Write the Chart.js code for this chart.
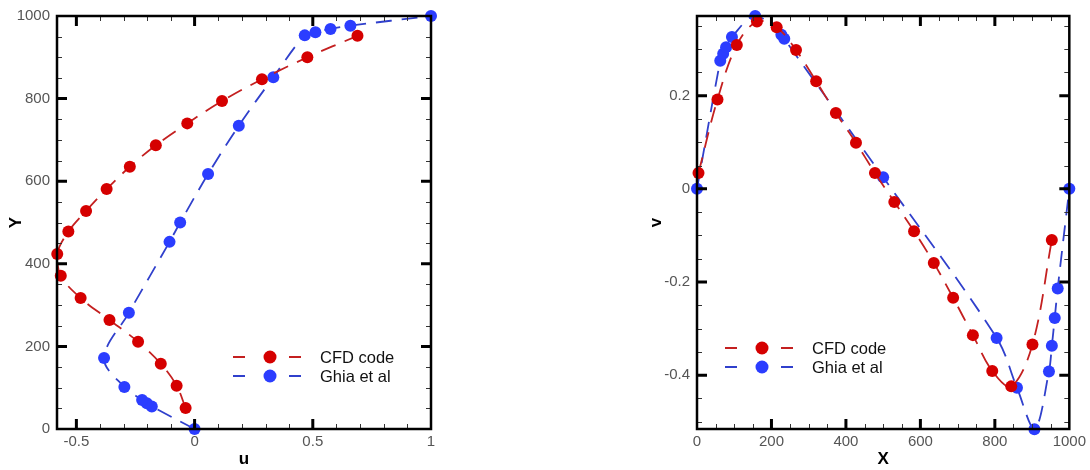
<!DOCTYPE html>
<html>
<head>
<meta charset="utf-8">
<script src="https://cdn.jsdelivr.net/npm/chart.js@4"></script>
<style>
html,body{margin:0;padding:0;background:#fff;}
#wrap{position:relative;width:1090px;height:470px;overflow:hidden;}
.c{position:absolute;top:0;width:545px;height:470px;}
</style>
</head>
<body>
<div id="wrap">
  <div class="c" style="left:0"><canvas id="cu" width="545" height="470"></canvas></div>
  <div class="c" style="left:545px"><canvas id="cv" width="545" height="470"></canvas></div>
</div>
<script>
// ---- Left chart: u profile along vertical centreline ----
const cfdY = [51,105,158,211,264,317,371,424,478,528,581,635,687,740,794,847,900,952];
const cfdU = [-0.038,-0.076,-0.143,-0.239,-0.360,-0.482,-0.566,-0.581,-0.534,-0.459,-0.372,-0.274,-0.164,-0.031,0.116,0.285,0.477,0.689];
const ghiaY = [0,54.7,62.5,70.3,101.6,171.9,281.3,453.1,500,617.2,734.4,851.6,953.1,960.9,968.8,976.6,1000];
const ghiaU = [0,-0.181,-0.202,-0.222,-0.297,-0.383,-0.278,-0.106,-0.061,0.057,0.187,0.333,0.466,0.511,0.575,0.659,1];

// ---- Right chart: v profile along horizontal centreline ----
const cfdX = [4,55,107,161,214,266,320,373,427,478,530,583,636,688,741,793,844,901,953];
const cfdV = [0.034,0.192,0.309,0.359,0.347,0.298,0.231,0.163,0.099,0.034,-0.028,-0.091,-0.159,-0.234,-0.314,-0.391,-0.424,-0.334,-0.110];
const ghiaX = [0,62.5,70.3,78.1,93.8,156.3,226.6,234.4,500,804.7,859.4,906.3,945.3,953.1,960.9,968.8,1000];
const ghiaV = [0,0.275,0.290,0.304,0.326,0.371,0.331,0.322,0.025,-0.320,-0.427,-0.516,-0.392,-0.337,-0.277,-0.214,0];

// ---- tick labels ----
const uTicks = [-0.5,0,0.5,1];
const uTickLabels = ['-0.5','0','0.5','1'];
const yTicks = [0,200,400,600,800,1000];
const yTickLabels = ['0','200','400','600','800','1000'];
const xTicks = [0,200,400,600,800,1000];
const xTickLabels = ['0','200','400','600','800','1000'];
const vTicks = [-0.4,-0.2,0,0.2];
const vTickLabels = ['-0.4','-0.2','0','0.2'];
const legendLabels = ['CFD code','Ghia et al'];

const RED_PT = '#d50000', RED_LN = '#c42020';
const BLUE_PT = '#2b3dff', BLUE_LN = '#3040cc';
const TICK_COLOR = '#555';
const FONT = '"Liberation Sans", Arial, sans-serif';

function pts(xs, ys){ return xs.map((x,i)=>({x:x, y:ys[i]})); }

function ds(label, data, pt, ln){
  return {label, data, showLine:true, borderColor:ln, backgroundColor:pt,
    pointBackgroundColor:pt, pointBorderColor:pt, pointBorderWidth:0,
    pointRadius:6, pointHoverRadius:6, borderWidth:1.8, borderDash:[16,10],
    tension:0.35, clip:false};
}

const framePlugin = {
  id:'frame',
  afterDatasetsDraw(chart, args, opts){
    const ctx = chart.ctx, a = chart.chartArea;
    const xs = chart.scales.x, ys = chart.scales.y;
    ctx.save();
    // minor ticks
    ctx.strokeStyle = '#333'; ctx.lineWidth = 1;
    ctx.beginPath();
    opts.xMinor.forEach(v=>{ const p = Math.round(xs.getPixelForValue(v))+0.5;
      if(p<a.left+1||p>a.right-1) return;
      ctx.moveTo(p,a.bottom); ctx.lineTo(p,a.bottom-5); ctx.moveTo(p,a.top); ctx.lineTo(p,a.top+5); });
    opts.yMinor.forEach(v=>{ const p = Math.round(ys.getPixelForValue(v))+0.5;
      if(p<a.top+1||p>a.bottom-1) return;
      ctx.moveTo(a.left,p); ctx.lineTo(a.left+5,p); ctx.moveTo(a.right,p); ctx.lineTo(a.right-5,p); });
    ctx.stroke();
    // major ticks
    ctx.strokeStyle = '#000'; ctx.lineWidth = 3;
    ctx.beginPath();
    opts.xMajor.forEach(v=>{ const p = xs.getPixelForValue(v);
      if(p<a.left+2||p>a.right-2) return;
      ctx.moveTo(p,a.bottom); ctx.lineTo(p,a.bottom-10); ctx.moveTo(p,a.top); ctx.lineTo(p,a.top+10); });
    opts.yMajor.forEach(v=>{ const p = ys.getPixelForValue(v);
      if(p<a.top+2||p>a.bottom-2) return;
      ctx.moveTo(a.left,p); ctx.lineTo(a.left+10,p); ctx.moveTo(a.right,p); ctx.lineTo(a.right-10,p); });
    ctx.stroke();
    // frame
    ctx.lineWidth = 2.5; ctx.strokeStyle = '#000';
    ctx.strokeRect(a.left, a.top, a.right-a.left, a.bottom-a.top);
    // redraw markers on top of frame
    ctx.restore();
  }
};

const legendPlugin = {
  id:'customLegend',
  afterDraw(chart, args, opts){
    const ctx = chart.ctx, a = chart.chartArea;
    ctx.save();
    chart.data.datasets.forEach((d,i)=>{
      const y = a.top + opts.dy + i*19;
      const x0 = a.left + opts.dx;
      ctx.strokeStyle = d.borderColor; ctx.lineWidth = 1.8; ctx.setLineDash([]);
      ctx.beginPath();
      ctx.moveTo(x0, y); ctx.lineTo(x0+12, y);
      ctx.moveTo(x0+56, y); ctx.lineTo(x0+68, y);
      ctx.stroke();
      ctx.fillStyle = d.pointBackgroundColor;
      ctx.beginPath(); ctx.arc(x0+37, y, 6.5, 0, Math.PI*2); ctx.fill();
      ctx.fillStyle = '#111';
      ctx.font = '16.5px ' + FONT;
      ctx.textBaseline = 'middle'; ctx.textAlign = 'left';
      ctx.fillText(d.label, x0+87, y+1);
    });
    ctx.restore();
  }
};

function makeScale(min, max, ticks, labels, title, isX){
  return {
    type:'linear', min, max,
    afterBuildTicks(s){ s.ticks = ticks.map(v=>({value:v})); },
    afterFit(s){ if(isX) s.height = 41; else s.width = 57; },
    grid:{display:true, drawOnChartArea:false, drawTicks:false},
    border:{display:false},
    ticks:{
      autoSkip:false, maxRotation:0, padding: isX ? 4 : 7,
      color:TICK_COLOR, font:{family:FONT, size:15},
      callback(v){ const i = ticks.indexOf(v); return i>=0 ? labels[i] : ''; }
    },
    title:{display:true, text:title, color:'#000',
      font:{family:FONT, size:17, weight:'bold'},
      padding: isX ? {top:0,bottom:0} : {top:6,bottom:0}}
  };
}

function range(a,b,s){ const r=[]; for(let v=a; v<=b+1e-9; v+=s) r.push(Math.round(v*1000)/1000); return r; }

new Chart(document.getElementById('cu'), {
  type:'scatter',
  data:{datasets:[
    ds(legendLabels[0], pts(cfdU, cfdY), RED_PT, RED_LN),
    ds(legendLabels[1], pts(ghiaU, ghiaY), BLUE_PT, BLUE_LN)
  ]},
  options:{
    responsive:false, animation:false, devicePixelRatio:1,
    layout:{padding:{left:0, top:15, right:114, bottom:0}},
    scales:{
      x: makeScale(-0.582, 1, uTicks, uTickLabels, 'u', true),
      y: makeScale(0, 1000, yTicks, yTickLabels, 'Y', false)
    },
    plugins:{
      legend:{display:false}, tooltip:{enabled:false},
      frame:{xMajor:uTicks, yMajor:yTicks, xMinor:range(-0.5,1,0.1), yMinor:range(0,1000,50)},
      customLegend:{dx:176, dy:341}
    }
  },
  plugins:[framePlugin, legendPlugin]
});

new Chart(document.getElementById('cv'), {
  type:'scatter',
  data:{datasets:[
    ds(legendLabels[0], pts(cfdX, cfdV), RED_PT, RED_LN),
    ds(legendLabels[1], pts(ghiaX, ghiaV), BLUE_PT, BLUE_LN)
  ]},
  options:{
    responsive:false, animation:false, devicePixelRatio:1,
    layout:{padding:{left:95, top:15, right:19, bottom:0}},
    scales:{
      x: makeScale(0, 1000, xTicks, xTickLabels, 'X', true),
      y: makeScale(-0.5155, 0.371, vTicks, vTickLabels, 'v', false)
    },
    plugins:{
      legend:{display:false}, tooltip:{enabled:false},
      frame:{xMajor:xTicks, yMajor:vTicks, xMinor:range(0,1000,50), yMinor:range(-0.5,0.35,0.05)},
      customLegend:{dx:28, dy:332}
    }
  },
  plugins:[framePlugin, legendPlugin]
});
</script>
</body>
</html>
